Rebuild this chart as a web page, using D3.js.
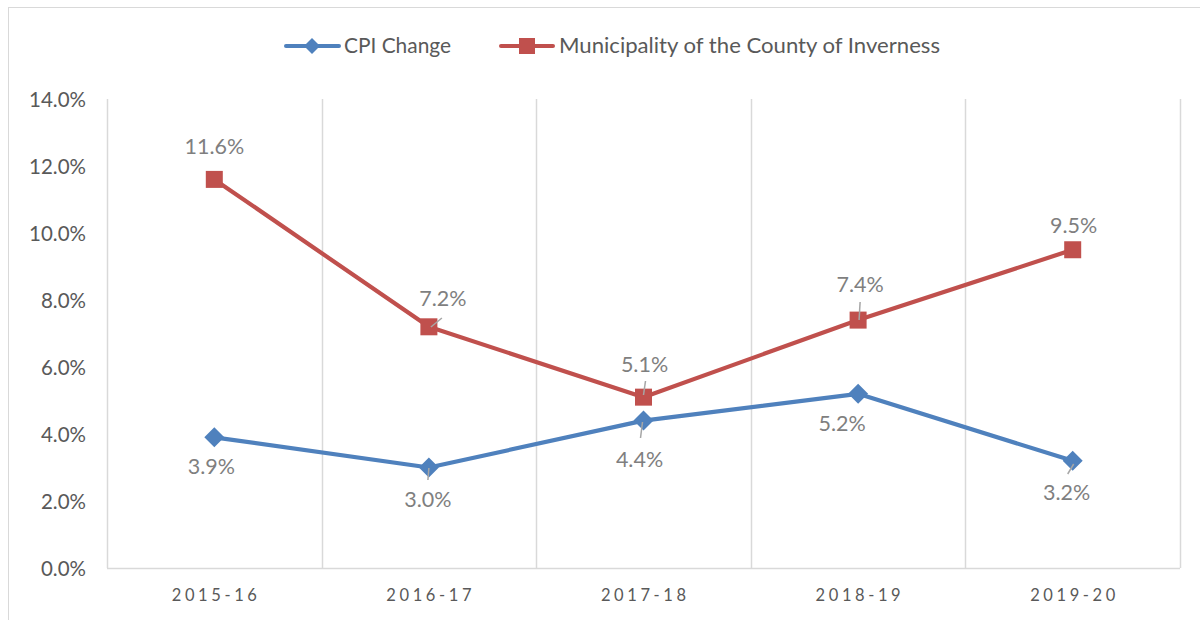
<!DOCTYPE html>
<html><head><meta charset="utf-8">
<script src="https://cdn.jsdelivr.net/npm/d3@7"></script>
<style>body{margin:0;background:#fff}svg{display:block}text{font-family:Lato,"Open Sans",sans-serif}</style>
</head><body>
<script>
const categories = ["2015-16","2016-17","2017-18","2018-19","2019-20"];
const cpiChange = [3.9, 3.0, 4.4, 5.2, 3.2];
const inverness = [11.6, 7.2, 5.1, 7.4, 9.5];
const yTicks = [0,2,4,6,8,10,12,14];
const seriesNames = ["CPI Change","Municipality of the County of Inverness"];
const cpiLabelPos = [[-3,29],[-1,32],[-4,39],[-16,30],[-6,32]];
const invLabelPos = [[0,-33],[14,-28],[1,-33],[2,-36],[1,-24]];

const W=1200,H=620;
const svg=d3.select("body").append("svg").attr("width",W).attr("height",H);
svg.append("rect").attr("x",8.5).attr("y",7.5).attr("width",1210).attr("height",630)
  .attr("fill","none").attr("stroke","#d9d9d9").attr("stroke-width",1);

const m={l:107,r:1180,t:99,b:568};
const x=d3.scaleBand().domain(categories).range([m.l,m.r]).padding(0);
const y=d3.scaleLinear().domain([0,14]).range([m.b,m.t]);

const bounds=categories.map(c=>x(c)).concat([m.r]);
svg.append("g").selectAll("line").data(bounds).join("line")
  .attr("x1",d=>Math.round(d)+0.5).attr("x2",d=>Math.round(d)+0.5)
  .attr("y1",m.t).attr("y2",m.b)
  .attr("stroke","#d9d9d9").attr("stroke-width",1.5);
svg.append("line").attr("x1",m.l).attr("x2",m.r).attr("y1",m.b+0.5).attr("y2",m.b+0.5)
  .attr("stroke","#d9d9d9").attr("stroke-width",1.5);

const yAxis=d3.axisLeft(y).tickValues(yTicks).tickSize(0).tickPadding(0)
  .tickFormat(d=>d3.format(".1f")(d)+"%");
const gy=svg.append("g").attr("transform",`translate(${m.l-21},0)`).call(yAxis);
gy.select(".domain").remove();
gy.selectAll("text").attr("fill","#595959").style("font-size","20.5px").attr("dy","0.35em");

const xAxis=d3.axisBottom(x).tickSize(0).tickPadding(0);
const gx=svg.append("g").attr("transform",`translate(0,${m.b+21})`).call(xAxis);
gx.select(".domain").remove();
gx.selectAll("text").attr("fill","#595959").style("font-size","16.5px")
  .style("letter-spacing","3.6px").attr("dx","1.8px").attr("dy","0.71em");

const cx=c=>x(c)+x.bandwidth()/2;
const line=d3.line().x((d,i)=>cx(categories[i])).y(d=>y(d));
const blue="#4f81bd", red="#c0504d";

svg.append("path").datum(inverness).attr("d",line).attr("fill","none").attr("stroke",red).attr("stroke-width",4.2).attr("stroke-linejoin","round");
svg.append("path").datum(cpiChange).attr("d",line).attr("fill","none").attr("stroke",blue).attr("stroke-width",4.2).attr("stroke-linejoin","round");

svg.append("g").selectAll("rect").data(inverness).join("rect")
  .attr("x",(d,i)=>cx(categories[i])-8.5).attr("y",d=>y(d)-8.5)
  .attr("width",17).attr("height",17).attr("fill",red);
const diamond="M0,-10L10,0L0,10L-10,0Z";
svg.append("g").selectAll("path").data(cpiChange).join("path")
  .attr("d",diamond).attr("fill",blue)
  .attr("transform",(d,i)=>`translate(${cx(categories[i])},${y(d)})`);

const leaders=[
  {i:1,x1:2,y1:327,x2:13,y2:318},
  {i:2,x1:0,y1:395,x2:2,y2:381},
  {i:3,x1:1,y1:320,x2:2,y2:302},
  {i:1,x1:0,y1:468,x2:-1,y2:480},
  {i:2,x1:-1,y1:422,x2:-3,y2:438},
  {i:4,x1:1,y1:464,x2:-5,y2:474}
];
svg.append("g").selectAll("line").data(leaders).join("line")
  .attr("x1",d=>cx(categories[d.i])+d.x1).attr("x2",d=>cx(categories[d.i])+d.x2)
  .attr("y1",d=>d.y1).attr("y2",d=>d.y2)
  .attr("stroke","#a6a6a6").attr("stroke-width",1.5);

const fmt=d=>d3.format(".1f")(d)+"%";
svg.append("g").selectAll("text").data(inverness).join("text")
  .attr("x",(d,i)=>cx(categories[i])+invLabelPos[i][0]).attr("y",(d,i)=>y(d)+invLabelPos[i][1])
  .attr("text-anchor","middle").attr("dy","0.35em").attr("fill","#7f7f7f").style("font-size","21.5px")
  .text(fmt);
svg.append("g").selectAll("text").data(cpiChange).join("text")
  .attr("x",(d,i)=>cx(categories[i])+cpiLabelPos[i][0]).attr("y",(d,i)=>y(d)+cpiLabelPos[i][1])
  .attr("text-anchor","middle").attr("dy","0.35em").attr("fill","#7f7f7f").style("font-size","21.5px")
  .text(fmt);

const lg=svg.append("g");
const ly=46;
lg.append("line").attr("x1",286).attr("x2",339).attr("y1",ly).attr("y2",ly).attr("stroke",blue).attr("stroke-width",4).attr("stroke-linecap","round");
lg.append("path").attr("d","M0,-8L8,0L0,8L-8,0Z").attr("fill",blue).attr("transform",`translate(312,${ly})`);
lg.append("text").attr("x",344).attr("y",ly).attr("dy","0.35em").attr("fill","#595959").style("font-size","21px")
  .attr("textLength",107).attr("lengthAdjust","spacingAndGlyphs").text(seriesNames[0]);
lg.append("line").attr("x1",501).attr("x2",553).attr("y1",ly).attr("y2",ly).attr("stroke",red).attr("stroke-width",4).attr("stroke-linecap","round");
lg.append("rect").attr("x",519).attr("y",ly-8).attr("width",16).attr("height",16).attr("fill",red);
lg.append("text").attr("x",559).attr("y",ly).attr("dy","0.35em").attr("fill","#595959").style("font-size","21px")
  .attr("textLength",381).attr("lengthAdjust","spacingAndGlyphs").text(seriesNames[1]);
</script>
</body></html>
